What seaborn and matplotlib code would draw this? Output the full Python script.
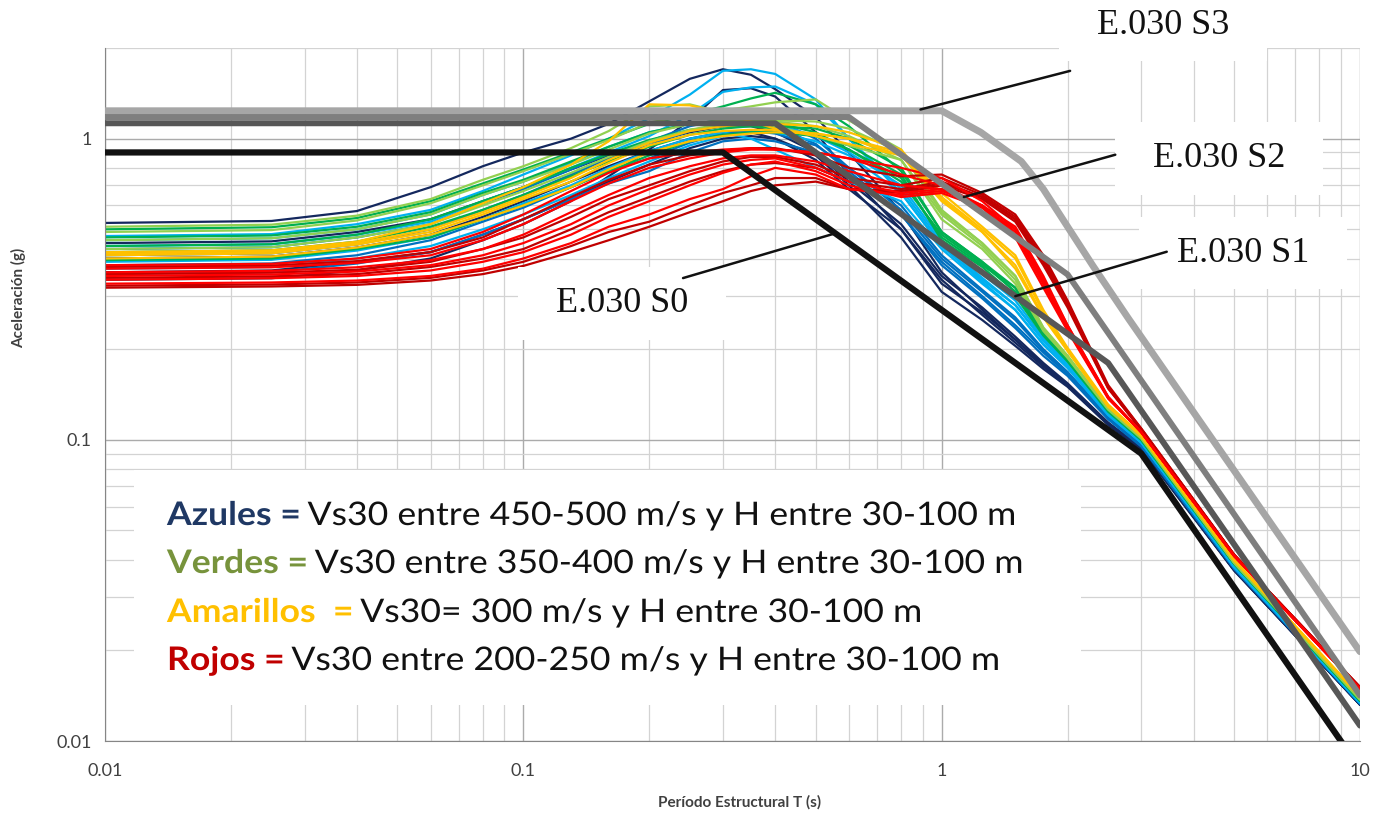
import matplotlib
matplotlib.use("Agg")
import matplotlib.pyplot as plt
import pandas as pd
import seaborn as sns
from matplotlib.ticker import FixedLocator, LogLocator, NullFormatter
from matplotlib.textpath import TextPath
from matplotlib.patches import PathPatch, Rectangle
from matplotlib.font_manager import FontProperties
from matplotlib.transforms import Affine2D

# periodos (s) comunes a todos los espectros de sitio
periodos = [0.01, 0.025, 0.04, 0.06, 0.08, 0.1, 0.13, 0.16, 0.2, 0.25, 0.3, 0.35, 0.4,
            0.5, 0.6, 0.8, 1.0, 1.25, 1.5, 1.75, 2.0, 2.5, 3.0, 5.0, 10.0]

# aceleraciones espectrales (g), una lista por curva
azules_oscuros = [
    [.525, .533, .575, .69, .81, .90, 1.0, 1.12, 1.33, 1.58, 1.70, 1.63, 1.46, 1.18, .90, .57, .36, .27, .215, .178, .153, .114, .094, .0370, .0132],
    [.34, .344, .365, .40, .46, .52, .62, .75, .92, 1.15, 1.45, 1.47, 1.38, 1.05, .76, .50, .34, .26, .21, .175, .151, .113, .094, .0370, .0132],
    [.36, .365, .39, .42, .48, .54, .63, .72, .82, .93, 1.0, 1.02, 1.0, .88, .70, .47, .31, .25, .205, .172, .150, .112, .093, .0368, .0132],
    [.45, .456, .49, .54, .62, .69, .79, .88, .97, 1.05, 1.10, 1.10, 1.05, .90, .72, .52, .35, .275, .22, .18, .154, .114, .094, .0370, .0132],
    [.40, .406, .435, .48, .55, .62, .72, .81, .91, 1.00, 1.05, 1.05, 1.00, .85, .68, .50, .33, .265, .215, .177, .152, .113, .094, .0370, .0132],
]
azules = [
    [.41, .416, .445, .50, .58, .65, .76, .86, .95, 1.06, 1.12, 1.13, 1.10, .96, .78, .56, .39, .30, .24, .195, .165, .118, .096, .0375, .0133],
    [.43, .436, .47, .52, .61, .68, .79, .89, .98, 1.10, 1.16, 1.18, 1.15, 1.0, .80, .58, .40, .31, .25, .198, .167, .119, .096, .0376, .0133],
    [.38, .385, .41, .46, .53, .59, .69, .78, .86, .97, 1.04, 1.06, 1.04, .95, .80, .60, .41, .315, .255, .20, .168, .12, .097, .0377, .0133],
    [.355, .36, .385, .42, .48, .54, .63, .71, .78, .90, .98, 1.0, .98, .90, .76, .56, .38, .295, .235, .19, .163, .117, .095, .0373, .0133],
]
celestes = [
    [.475, .482, .52, .58, .67, .76, .88, 1.0, 1.17, 1.40, 1.68, 1.70, 1.64, 1.35, 1.0, .66, .44, .34, .28, .215, .178, .123, .098, .0380, .0134],
    [.44, .446, .48, .53, .62, .69, .80, .90, 1.02, 1.20, 1.43, 1.48, 1.49, 1.30, 1.0, .68, .45, .345, .28, .213, .176, .122, .098, .0380, .0134],
    [.37, .375, .40, .44, .50, .56, .65, .74, .84, .95, 1.02, 1.05, 1.05, .98, .88, .66, .44, .335, .27, .208, .174, .121, .098, .0378, .0134],
    [.46, .467, .50, .56, .65, .72, .83, .94, 1.05, 1.12, 1.15, 1.15, 1.12, 1.02, .90, .70, .46, .355, .29, .218, .179, .123, .099, .0380, .0134],
    [.39, .396, .425, .47, .54, .61, .70, .80, .91, 1.0, 1.05, 1.0, .92, .80, .72, .62, .43, .33, .27, .207, .173, .121, .098, .0378, .0134],
]
verdes = [
    [.50, .508, .545, .62, .71, .79, .90, 1.0, 1.12, 1.20, 1.28, 1.36, 1.42, 1.30, 1.10, .78, .49, .39, .31, .225, .185, .125, .100, .0388, .0136],
    [.47, .477, .51, .57, .66, .73, .84, .94, 1.05, 1.12, 1.15, 1.15, 1.13, 1.05, .92, .72, .48, .385, .31, .223, .183, .125, .100, .0388, .0136],
    [.44, .446, .48, .54, .62, .69, .80, .89, .99, 1.07, 1.10, 1.10, 1.08, 1.02, .92, .74, .47, .38, .32, .225, .184, .125, .100, .0388, .0136],
    [.42, .426, .455, .51, .58, .65, .75, .84, .94, 1.03, 1.08, 1.10, 1.10, 1.08, 1.00, .80, .49, .39, .32, .226, .185, .126, .101, .0390, .0136],
    [.395, .40, .43, .47, .54, .60, .69, .78, .88, .98, 1.03, 1.05, 1.05, 1.02, .95, .76, .46, .375, .30, .222, .182, .124, .100, .0388, .0136],
]
verdes_claros = [
    [.49, .497, .535, .61, .70, .78, .89, .99, 1.13, 1.20, 1.24, 1.28, 1.32, 1.35, 1.15, .92, .58, .45, .35, .235, .19, .127, .102, .0392, .0138],
    [.51, .518, .555, .63, .73, .81, .93, 1.06, 1.28, 1.30, 1.22, 1.15, 1.10, 1.02, .95, .85, .56, .44, .34, .232, .188, .127, .102, .0392, .0138],
    [.46, .467, .50, .56, .65, .72, .82, .92, 1.04, 1.12, 1.15, 1.15, 1.14, 1.10, 1.02, .85, .54, .43, .33, .23, .187, .126, .101, .0390, .0137],
    [.43, .436, .47, .52, .60, .67, .77, .87, .98, 1.07, 1.12, 1.14, 1.15, 1.14, 1.08, .90, .57, .45, .35, .236, .19, .127, .102, .0392, .0138],
]
amarillos = [
    [.42, .426, .455, .52, .61, .69, .82, .98, 1.30, 1.29, 1.22, 1.14, 1.08, 1.02, .96, .88, .64, .50, .40, .265, .20, .130, .103, .0400, .0141],
    [.41, .416, .445, .49, .56, .63, .72, .83, .95, 1.03, 1.06, 1.07, 1.07, 1.04, 1.0, .88, .62, .49, .38, .258, .198, .129, .103, .0398, .0140],
    [.40, .406, .435, .48, .54, .60, .69, .79, .90, .98, 1.02, 1.04, 1.05, 1.04, 1.0, .90, .66, .51, .41, .27, .202, .131, .104, .0400, .0141],
    [.415, .421, .45, .50, .57, .64, .74, .85, .97, 1.06, 1.10, 1.12, 1.12, 1.10, 1.05, .92, .63, .49, .37, .255, .197, .129, .103, .0398, .0140],
]
rojos = [
    [.38, .384, .40, .43, .49, .56, .67, .77, .86, .90, .92, .93, .92, .90, .86, .80, .74, .62, .50, .34, .24, .139, .106, .0412, .0149],
    [.37, .374, .387, .41, .46, .52, .62, .71, .80, .86, .90, .92, .92, .90, .86, .76, .70, .60, .48, .33, .235, .138, .106, .0412, .0149],
    [.36, .364, .374, .395, .43, .48, .57, .65, .74, .81, .86, .88, .88, .84, .78, .70, .68, .59, .47, .32, .23, .137, .106, .0411, .0149],
    [.35, .354, .362, .38, .41, .45, .52, .60, .68, .76, .82, .85, .86, .80, .72, .66, .68, .60, .49, .33, .232, .138, .106, .0412, .0149],
    [.34, .344, .35, .365, .39, .42, .48, .55, .62, .70, .77, .82, .84, .78, .70, .64, .66, .59, .50, .34, .236, .138, .106, .0412, .0149],
    [.33, .333, .338, .35, .37, .40, .45, .51, .56, .63, .68, .75, .80, .76, .68, .65, .67, .60, .51, .35, .24, .139, .106, .0412, .0149],
]
rojos_oscuros = [
    [.375, .379, .392, .42, .47, .54, .64, .73, .82, .88, .91, .93, .93, .88, .80, .75, .76, .66, .56, .41, .29, .152, .109, .0416, .0151],
    [.355, .359, .367, .39, .43, .47, .55, .63, .70, .78, .84, .87, .87, .82, .74, .70, .74, .65, .55, .40, .285, .150, .109, .0416, .0151],
    [.345, .349, .355, .375, .40, .43, .50, .57, .64, .72, .78, .82, .83, .80, .72, .68, .72, .64, .54, .39, .28, .149, .108, .0415, .0151],
    [.325, .328, .333, .345, .365, .39, .44, .49, .53, .60, .66, .70, .74, .74, .68, .66, .70, .63, .53, .38, .275, .148, .108, .0415, .0150],
    [.32, .323, .327, .338, .355, .378, .42, .46, .51, .57, .62, .67, .70, .72, .68, .67, .71, .64, .54, .39, .28, .149, .108, .0415, .0150],
]

# espectros de la norma E.030 (puntos de quiebre)
t_s0 = [0.01, 0.3, 3.0, 10.0]
sa_s0 = [0.9, 0.9, 0.09, 0.0081]
t_s1 = [0.01, 0.4, 2.5, 10.0]
sa_s1 = [1.125, 1.125, 0.18, 0.01125]
t_s2 = [0.01, 0.6, 2.0, 10.0]
sa_s2 = [1.18, 1.18, 0.354, 0.01416]
t_s3 = [0.01, 1.0, 1.24, 1.55, 1.75, 2.0, 2.3, 2.8, 10.0]
sa_s3 = [1.2375, 1.2375, 1.05, 0.84, 0.68, 0.51, 0.378, 0.252, 0.0198]

grupos = [
    ("azul_oscuro", "#14285E", azules_oscuros),
    ("azul", "#0070C0", azules),
    ("celeste", "#00B0F0", celestes),
    ("verde", "#00B050", verdes),
    ("verde_claro", "#92D050", verdes_claros),
    ("amarillo", "#FFC000", amarillos),
    ("rojo_oscuro", "#C00000", rojos_oscuros),
    ("rojo", "#FF0000", rojos),
]

filas = []
paleta = {}
for nombre, color, curvas in grupos:
    for i, curva in enumerate(curvas):
        clave = f"{nombre}_{i}"
        paleta[clave] = color
        for t, sa in zip(periodos, curva):
            filas.append({"T": t, "Sa": sa, "curva": clave})
df = pd.DataFrame(filas)

normas = [
    ("S3", t_s3, sa_s3, "#A6A6A6", 5.0),
    ("S2", t_s2, sa_s2, "#7F7F7F", 4.3),
    ("S1", t_s1, sa_s1, "#575757", 4.3),
    ("S0", t_s0, sa_s0, "#111111", 4.5),
]

sns.set_style("white")
plt.rcParams["font.family"] = ["Lato", "DejaVu Sans"]

W, H = 1388, 818
fig = plt.figure(figsize=(W / 100, H / 100), dpi=100)
ax = fig.add_axes([105 / W, 77 / H, 1255 / W, 693 / H])
ax.set_xscale("log")
ax.set_yscale("log")

sns.lineplot(data=df, x="T", y="Sa", hue="curva", palette=paleta,
             hue_order=list(paleta.keys()), estimator=None, sort=False,
             legend=False, linewidth=1.6, ax=ax)

for nombre, t, sa, color, lw in normas:
    sns.lineplot(x=t, y=sa, color=color, linewidth=lw, estimator=None,
                 sort=False, ax=ax, zorder=4)

ax.set_xlim(0.01, 10)
ax.set_ylim(0.01, 2)
ax.xaxis.set_major_locator(FixedLocator([0.01, 0.1, 1, 10]))
ax.set_xticklabels(["0.01", "0.1", "1", "10"])
ax.yaxis.set_major_locator(FixedLocator([0.01, 0.1, 1]))
ax.set_yticklabels(["0.01", "0.1", "1"])
for eje in (ax.xaxis, ax.yaxis):
    eje.set_minor_locator(LogLocator(base=10, subs=range(2, 10)))
    eje.set_minor_formatter(NullFormatter())
ax.grid(which="major", color="#ABABAB", linewidth=1.0)
ax.grid(which="minor", color="#D3D3D3", linewidth=0.9)
ax.tick_params(which="major", length=6, color="#868686", labelsize=13,
               labelcolor="#404040")
ax.tick_params(axis="x", which="major", pad=10)
ax.tick_params(which="minor", length=0)
for lado in ("top", "right"):
    ax.spines[lado].set_visible(False)
for lado in ("left", "bottom"):
    ax.spines[lado].set_color("#868686")

ax.set_xlabel("Período Estructural T (s)", fontsize=11, fontweight="bold", color="#404040")
ax.set_ylabel("Aceleración (g)", fontsize=11, fontweight="bold", color="#404040")
ax.xaxis.set_label_coords(0.506, -0.078)
ax.yaxis.set_label_coords(-0.063, 0.639)

# cuadro blanco de la leyenda
ax.add_patch(Rectangle((0.0231, 0.052), 0.7546, 0.339, transform=ax.transAxes,
                       facecolor="white", edgecolor="none", zorder=1))

# etiquetas E.030 con lineas de llamada
etiquetas = [
    ("E.030 S3", (0.843, 1.033), (0.89, 1.25), (0.769, 0.967)),
    ("E.030 S2", (0.888, 0.841), (1.13, 0.64), (0.805, 0.846)),
    ("E.030 S1", (0.907, 0.704), (1.5, 0.30), (0.846, 0.706)),
    ("E.030 S0", (0.412, 0.631), (0.557, 0.485), (0.4606, 0.668)),
]
for texto, pos, punto, fin in etiquetas:
    ax.text(pos[0], pos[1], "  " + texto + "  ", transform=ax.transAxes,
            ha="center", va="center", fontsize=26, family="Liberation Serif",
            color="#111111", zorder=6, clip_on=False,
            bbox=dict(boxstyle="square,pad=0.55", fc="white", ec="none"))
    ax.annotate("", xy=punto, xycoords="data", xytext=fin,
                textcoords="axes fraction", zorder=7,
                arrowprops=dict(arrowstyle="-", color="#111111", lw=1.8,
                                shrinkA=0, shrinkB=0))

# texto de la leyenda (letra condensada como en el original)
fp_b = FontProperties(family="Lato", weight="bold")
fp_r = FontProperties(family="Lato")
leyenda = [
    (525, [("Azules =", "#1F3864", fp_b), (" Vs30 entre 450-500 m/s y H entre 30-100 m", "#111111", fp_r)]),
    (573, [("Verdes =", "#77933C", fp_b), (" Vs30 entre 350-400 m/s y H entre 30-100 m", "#111111", fp_r)]),
    (622, [("Amarillos  =", "#FFC000", fp_b), (" Vs30= 300 m/s y H entre 30-100 m", "#111111", fp_r)]),
    (670, [("Rojos =", "#C00000", fp_b), (" Vs30 entre 200-250 m/s y H entre 30-100 m", "#111111", fp_r)]),
]
alto = 32.5


def ancho(partes):
    return sum(TextPath((0, 0), s, size=alto, prop=fp).get_extents().x1
               for s, _, fp in partes)


sx = 847 / ancho(leyenda[0][1])
for y_base, partes in leyenda:
    x = 167
    for s, color, fp in partes:
        tp = TextPath((0, 0), s, size=alto, prop=fp)
        tr = Affine2D().scale(sx, 1).translate(x, H - y_base)
        fig.add_artist(PathPatch(tp, transform=tr, facecolor=color,
                                 edgecolor="none", lw=0, zorder=10))
        x += tp.get_extents().x1 * sx

fig.savefig("out.png", dpi=100)
